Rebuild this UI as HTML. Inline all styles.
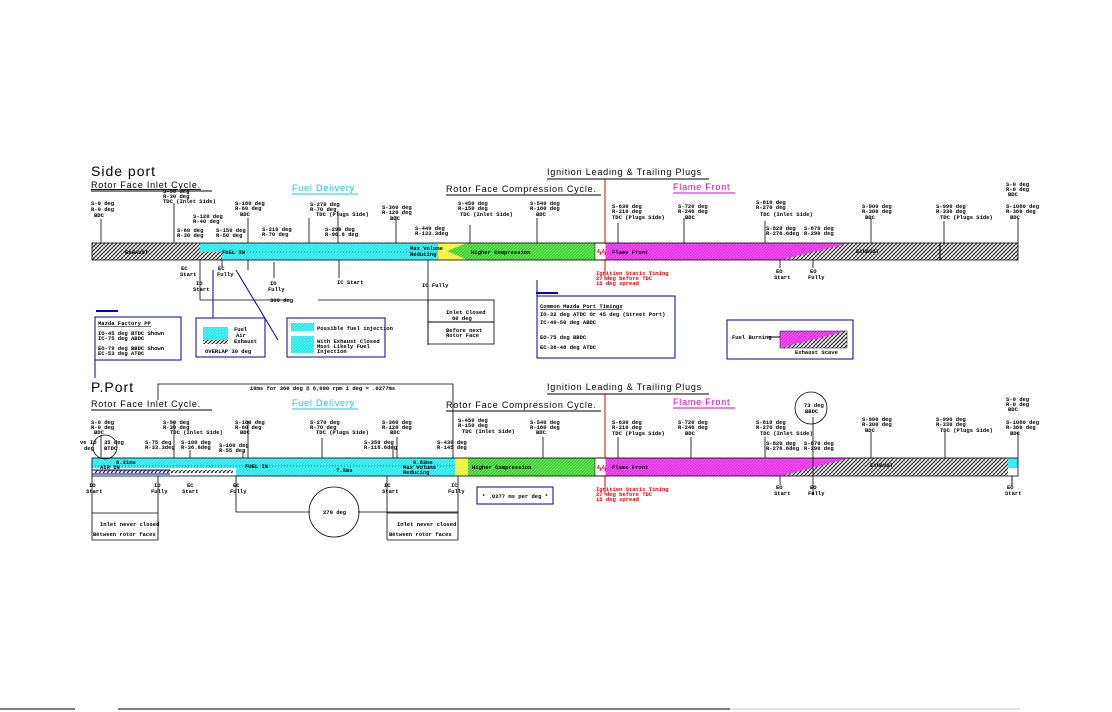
<!DOCTYPE html>
<html><head><meta charset="utf-8"><style>
html,body{margin:0;padding:0;background:#fff;width:1112px;height:712px;overflow:hidden}
svg{display:block}
text{font-family:"Liberation Mono",monospace;font-size:5.5px;fill:#000;font-weight:bold}
.t{font-family:"Liberation Sans",sans-serif;font-size:9px;font-weight:normal;letter-spacing:0.8px}
.h{font-family:"Liberation Sans",sans-serif;font-size:14px;font-weight:normal;letter-spacing:1px}
</style></head><body>
<svg width="1112" height="712" viewBox="0 0 1112 712" xmlns="http://www.w3.org/2000/svg">
<defs>
<pattern id="hx" width="4" height="4" patternUnits="userSpaceOnUse"><rect width="4" height="4" fill="#fff"/><path d="M0,4L4,0M-1,1L1,-1M3,5L5,3" stroke="#000" stroke-width="0.8"/><path d="M0,0L4,4" stroke="#000" stroke-width="0.4"/></pattern>
<pattern id="cy" width="3" height="3" patternUnits="userSpaceOnUse"><rect width="3" height="3" fill="#22e4ee"/><path d="M0,3L3,0" stroke="#6ff" stroke-width="0.8"/></pattern>
<pattern id="gr" width="3" height="3" patternUnits="userSpaceOnUse"><rect width="3" height="3" fill="#3c3"/><path d="M0,3L3,0" stroke="#8e6" stroke-width="0.8"/></pattern>
<pattern id="mg" width="3" height="3" patternUnits="userSpaceOnUse"><rect width="3" height="3" fill="#e2e"/><path d="M0,3L3,0" stroke="#f7f" stroke-width="0.8"/></pattern>
<pattern id="ye" width="3" height="3" patternUnits="userSpaceOnUse"><rect width="3" height="3" fill="#ee2"/><path d="M0,3L3,0" stroke="#ff8" stroke-width="0.8"/></pattern>
</defs>

<!-- ============ TOP ============ -->
<text x="91" y="176" class="h">Side port</text>
<text x="91" y="188" class="t" text-decoration="underline">Rotor Face Inlet Cycle.</text>
<line x1="91" y1="191" x2="212" y2="191" stroke="#000"/>
<text x="292" y="191" class="t" fill="#0cd" style="fill:#1cd">Fuel Delivery</text>
<line x1="292" y1="194" x2="358" y2="194" stroke="#1cd"/>
<text x="446" y="192" class="t">Rotor Face Compression Cycle.</text>
<line x1="446" y1="195" x2="601" y2="195" stroke="#000"/>
<text x="547" y="175" class="t">Ignition Leading &amp; Trailing Plugs</text>
<line x1="547" y1="179" x2="709" y2="179" stroke="#000"/>
<text x="673" y="190" class="t" style="fill:#d0d">Flame Front</text>
<line x1="673" y1="193" x2="735" y2="193" stroke="#d0d"/>
<line x1="605" y1="179" x2="605" y2="280" stroke="#e00"/>

<!-- bar top -->
<rect x="92" y="243" width="108" height="17" fill="url(#hx)"/>
<rect x="200" y="243" width="238" height="17" fill="url(#cy)"/>
<rect x="192" y="252" width="30" height="8" fill="url(#hx)"/>
<polygon points="438,243 467,243 447,251 467,260 438,260" fill="url(#ye)"/>
<polygon points="467,243 595,243 595,260 467,260 447,251" fill="url(#gr)"/>
<rect x="595" y="243" width="11" height="17" fill="#fff" stroke="#000" stroke-width="0.5"/>
<text x="597" y="255" style="fill:#e00;font-size:8px">ϟϟ</text>
<rect x="606" y="243" width="244" height="17" fill="url(#mg)"/>
<rect x="850" y="243" width="168" height="17" fill="url(#hx)"/>
<polygon points="780,260 850,243 850,260" fill="url(#hx)"/>
<rect x="92" y="243" width="926" height="17" fill="none" stroke="#000" stroke-width="0.8"/>
<line x1="940" y1="243" x2="940" y2="260" stroke="#000"/>
<line x1="220" y1="252" x2="438" y2="252" stroke="#088" stroke-dasharray="1,2"/>
<text x="125" y="254">EXHAUST</text><text x="222" y="254">FUEL IN</text>
<text x="410" y="250">Max Volume</text><text x="410" y="256">Reducing</text>
<text x="471" y="254">Higher Compression</text>
<text x="612" y="254">Flame Front</text><text x="856" y="253">EXHAUST</text>

<g stroke="#000" stroke-width="0.8">
<line x1="101" y1="219" x2="101" y2="243"/><line x1="174" y1="203" x2="174" y2="243"/>
<line x1="248" y1="218" x2="248" y2="243"/><line x1="309" y1="218" x2="309" y2="243"/>
<line x1="338" y1="211" x2="338" y2="243"/><line x1="396" y1="216" x2="396" y2="243"/>
<line x1="470" y1="225" x2="470" y2="243"/><line x1="537" y1="218" x2="537" y2="243"/>
<line x1="618" y1="223" x2="618" y2="243"/><line x1="684" y1="218" x2="684" y2="243"/>
<line x1="765" y1="221" x2="765" y2="243"/><line x1="871" y1="218" x2="871" y2="243"/>
<line x1="944" y1="221" x2="944" y2="243"/><line x1="1018" y1="218" x2="1018" y2="243"/>
<line x1="200" y1="260" x2="200" y2="282"/><line x1="222" y1="260" x2="222" y2="267"/>
<line x1="248" y1="260" x2="248" y2="270"/><line x1="274" y1="262" x2="274" y2="278"/>
<line x1="339" y1="260" x2="339" y2="278"/><line x1="428" y1="260" x2="428" y2="345"/>
<line x1="780" y1="260" x2="780" y2="268"/><line x1="813" y1="260" x2="813" y2="268"/>
<line x1="200" y1="300" x2="290" y2="300"/><line x1="318" y1="300" x2="428" y2="300"/>
<line x1="200" y1="282" x2="200" y2="300"/>
</g>
<text x="270" y="302">360 deg</text>
<rect x="428" y="300" width="66" height="44" fill="none" stroke="#000" stroke-width="0.8"/>
<line x1="428" y1="322" x2="494" y2="322" stroke="#000"/>
<text x="446" y="314">Inlet Closed</text><text x="452" y="320">60 deg</text>
<text x="446" y="332">Before next</text><text x="446" y="337">Rotor Face</text>

<text x="91" y="205">S-0 deg</text><text x="91" y="211">R-0 deg</text><text x="94" y="217">BDC</text>
<text x="163" y="193">S-90 deg</text><text x="163" y="198">R-30 deg</text><text x="163" y="203">TDC (Inlet Side)</text>
<text x="193" y="218">S-120 deg</text><text x="193" y="223">R-40 deg</text>
<text x="177" y="232">S-60 deg</text><text x="177" y="237">R-30 deg</text>
<text x="216" y="232">S-150 deg</text><text x="216" y="237">R-50 deg</text>
<text x="235" y="205">S-180 deg</text><text x="235" y="210">R-60 deg</text><text x="240" y="216">BDC</text>
<text x="262" y="231">S-210 deg</text><text x="262" y="236">R-70 deg</text>
<text x="310" y="206">S-270 deg</text><text x="310" y="211">R-70 deg</text><text x="316" y="216">TDC (Plugs Side)</text>
<text x="325" y="231">S-290 deg</text><text x="325" y="236">R-96.6 deg</text>
<text x="382" y="209">S-360 deg</text><text x="382" y="214">R-120 deg</text><text x="390" y="220">BDC</text>
<text x="415" y="230">S-440 deg</text><text x="415" y="235">R-133.3deg</text>
<text x="458" y="205">S-450 deg</text><text x="458" y="210">R-150 deg</text><text x="460" y="216">TDC (Inlet Side)</text>
<text x="530" y="205">S-540 deg</text><text x="530" y="210">R-180 deg</text><text x="536" y="216">BDC</text>
<text x="612" y="208">S-630 deg</text><text x="612" y="213">R-210 deg</text><text x="612" y="219">TDC (Plugs Side)</text>
<text x="678" y="208">S-720 deg</text><text x="678" y="213">R-240 deg</text><text x="685" y="219">BDC</text>
<text x="756" y="204">S-810 deg</text><text x="756" y="209">R-270 deg</text><text x="760" y="216">TDC (Inlet Side)</text>
<text x="766" y="230">S-820 deg</text><text x="766" y="235">R-276.6deg</text>
<text x="804" y="230">S-870 deg</text><text x="804" y="235">R-290 deg</text>
<text x="862" y="208">S-900 deg</text><text x="862" y="213">R-300 deg</text><text x="865" y="219">BDC</text>
<text x="936" y="208">S-990 deg</text><text x="936" y="213">R-330 deg</text><text x="940" y="219">TDC (Plugs Side)</text>
<text x="1006" y="186">S-0 deg</text><text x="1006" y="191">R-0 deg</text><text x="1008" y="196">BDC</text>
<text x="1006" y="208">S-1080 deg</text><text x="1006" y="213">R-360 deg</text><text x="1010" y="219">BDC</text>
<text x="181" y="270">EC</text><text x="180" y="276">Start</text>
<text x="196" y="285">IO</text><text x="193" y="291">Start</text>
<text x="218" y="270">EC</text><text x="217" y="276">Fully</text>
<text x="270" y="285">IO</text><text x="268" y="291">Fully</text>
<text x="337" y="284">IC Start</text><text x="422" y="287">IC Fully</text>
<text x="776" y="273">EO</text><text x="774" y="279">Start</text>
<text x="810" y="273">EO</text><text x="808" y="279">Fully</text>
<text x="596" y="275" style="fill:#e00">Ignition Static Timing</text>
<text x="596" y="280" style="fill:#e00">27 deg before TDC</text>
<text x="596" y="285" style="fill:#e00">15 deg spread</text>

<!-- boxes -->
<g stroke="#009" fill="none" stroke-width="1">
<rect x="95" y="317" width="86" height="43"/>
<rect x="196" y="318" width="69" height="39"/>
<rect x="287" y="318" width="98" height="39"/>
<rect x="537" y="296" width="138" height="62"/>
<rect x="727" y="320" width="126" height="39"/>
<rect x="477" y="487" width="76" height="17"/>
<line x1="213" y1="318" x2="213" y2="270"/>
<line x1="278" y1="340" x2="236" y2="270"/>
<line x1="537" y1="296" x2="537" y2="280"/>
<line x1="95" y1="360" x2="95" y2="378"/>
</g>
<rect x="96" y="310" width="22" height="2" fill="#00c"/>
<rect x="536" y="292" width="22" height="2" fill="#00c"/>
<text x="98" y="325" text-decoration="underline">Mazda Factory PP</text>
<text x="98" y="335">IO-45 deg BTDC  Shown</text><text x="98" y="340">IC-75 deg ABDC</text>
<text x="98" y="350">EO-79 deg BBDC  Shown</text><text x="98" y="355">EC-53 deg ATDC</text>
<rect x="203" y="327" width="25" height="13" fill="url(#cy)"/><rect x="203" y="340" width="25" height="4" fill="url(#hx)"/>
<text x="234" y="331">Fuel</text><text x="236" y="337">Air</text><text x="234" y="343">Exhaust</text>
<text x="205" y="353">OVERLAP 30 deg</text>
<rect x="291" y="323" width="23" height="8" fill="url(#cy)"/>
<text x="317" y="330">Possible fuel injection</text>
<rect x="291" y="336" width="23" height="17" fill="url(#cy)"/>
<text x="317" y="343">With Exhaust Closed</text><text x="317" y="348">Most Likely Fuel</text><text x="317" y="353">Injection</text>
<text x="540" y="308" text-decoration="underline">Common Mazda Port Timings</text>
<text x="540" y="316">IO-32 deg ATDC  Or 45 deg (Street Port)</text>
<text x="540" y="324">IC-40-50 deg ABDC</text>
<text x="540" y="339">EO-75 deg BBDC</text>
<text x="540" y="349">EC-38-48 deg ATDC</text>
<polygon points="780,331 847,331 847,348 780,348" fill="url(#hx)"/>
<polygon points="780,331 847,331 780,348" fill="url(#mg)"/>
<rect x="780" y="331" width="67" height="17" fill="none" stroke="#000" stroke-width="0.5"/>
<text x="732" y="339">Fuel Burning</text><line x1="768" y1="337" x2="780" y2="337" stroke="#000"/>
<text x="795" y="354">Exhaust Scave</text>

<!-- ============ BOTTOM ============ -->
<text x="91" y="392" class="h">P.Port</text>
<polyline points="158,400 158,384 453,384 453,458" fill="none" stroke="#000" stroke-width="0.8"/>
<text x="250" y="390">10ms for 360 deg @ 6,000 rpm   1 deg = .0277ms</text>
<text x="91" y="407" class="t">Rotor Face Inlet Cycle.</text>
<line x1="91" y1="410" x2="212" y2="410" stroke="#000"/>
<text x="292" y="406" class="t" style="fill:#1cd">Fuel Delivery</text>
<line x1="292" y1="409" x2="358" y2="409" stroke="#1cd"/>
<text x="446" y="408" class="t">Rotor Face Compression Cycle.</text>
<line x1="446" y1="411" x2="601" y2="411" stroke="#000"/>
<text x="547" y="390" class="t">Ignition Leading &amp; Trailing Plugs</text>
<line x1="547" y1="394" x2="709" y2="394" stroke="#000"/>
<text x="673" y="405" class="t" style="fill:#d0d">Flame Front</text>
<line x1="673" y1="408" x2="735" y2="408" stroke="#d0d"/>
<line x1="605" y1="394" x2="605" y2="495" stroke="#e00"/>

<rect x="92" y="458" width="363" height="18" fill="url(#cy)"/>
<rect x="92" y="468" width="144" height="8" fill="#fff"/>
<rect x="95" y="470" width="138" height="3" fill="url(#hx)"/>
<line x1="92" y1="470" x2="170" y2="470" stroke="#009"/><line x1="92" y1="474" x2="170" y2="474" stroke="#009"/>
<rect x="455" y="458" width="13" height="18" fill="url(#ye)"/>
<rect x="468" y="458" width="127" height="18" fill="url(#gr)"/>
<rect x="595" y="458" width="11" height="18" fill="#fff" stroke="#000" stroke-width="0.5"/>
<text x="597" y="471" style="fill:#e00;font-size:8px">ϟϟ</text>
<rect x="606" y="458" width="244" height="18" fill="url(#mg)"/>
<rect x="850" y="458" width="158" height="18" fill="url(#hx)"/>
<polygon points="780,476 850,458 850,476" fill="url(#hx)"/>
<rect x="1008" y="458" width="10" height="10" fill="url(#cy)"/>
<rect x="92" y="458" width="926" height="18" fill="none" stroke="#000" stroke-width="0.8"/>
<line x1="92" y1="466" x2="455" y2="466" stroke="#088" stroke-dasharray="1,2"/>
<text x="116" y="464">6.21ms</text><text x="100" y="469">AIR IN</text>
<text x="245" y="468">FUEL IN</text><text x="336" y="472">7.5ms</text>
<text x="413" y="464">0.83ms</text><text x="403" y="469">Max Volume</text><text x="403" y="474">Reducing</text>
<text x="472" y="469">Higher Compression</text>
<text x="612" y="469">Flame Front</text><text x="870" y="467">EXHAUST</text>

<g stroke="#000" stroke-width="0.8">
<line x1="101" y1="435" x2="101" y2="458"/><line x1="174" y1="421" x2="174" y2="458"/>
<line x1="190" y1="450" x2="190" y2="458"/><line x1="243" y1="451" x2="243" y2="458"/>
<line x1="248" y1="421" x2="248" y2="458"/><line x1="322" y1="438" x2="322" y2="458"/>
<line x1="393" y1="445" x2="393" y2="458"/><line x1="397" y1="437" x2="397" y2="458"/>
<line x1="543" y1="437" x2="543" y2="458"/><line x1="618" y1="437" x2="618" y2="458"/>
<line x1="691" y1="437" x2="691" y2="458"/><line x1="765" y1="437" x2="765" y2="458"/>
<line x1="813" y1="417" x2="813" y2="495"/><line x1="871" y1="432" x2="871" y2="458"/>
<line x1="945" y1="432" x2="945" y2="458"/><line x1="1018" y1="432" x2="1018" y2="458"/>
<line x1="780" y1="476" x2="780" y2="485"/>
<line x1="92" y1="476" x2="92" y2="540"/><line x1="158" y1="476" x2="158" y2="540"/>
<line x1="236" y1="476" x2="236" y2="512"/><line x1="236" y1="512" x2="310" y2="512"/>
<line x1="358" y1="512" x2="458" y2="512"/><line x1="458" y1="476" x2="458" y2="540"/>
<line x1="387" y1="476" x2="387" y2="540"/>
<line x1="92" y1="513" x2="158" y2="513"/><line x1="387" y1="513" x2="458" y2="513"/>
<line x1="92" y1="540" x2="158" y2="540"/><line x1="387" y1="540" x2="458" y2="540"/>
</g>
<line x1="1012" y1="476" x2="1012" y2="486" stroke="#009"/>
<circle cx="334" cy="512" r="25" fill="none" stroke="#000" stroke-width="0.8"/>
<text x="323" y="514">270 deg</text>
<circle cx="811" cy="408" r="16" fill="none" stroke="#000" stroke-width="0.8"/>
<text x="804" y="407">73 deg</text><text x="805" y="413">BBDC</text>
<circle cx="105" cy="447" r="12" fill="none" stroke="#000" stroke-width="0.8"/>
<text x="104" y="444">35 deg</text><text x="104" y="450">BTDC</text>
<text x="100" y="526">Inlet never closed</text><text x="93" y="536">Between rotor faces</text>
<text x="397" y="526">Inlet never closed</text><text x="389" y="536">Between rotor faces</text>
<text x="482" y="498">* .0277 ms per deg *</text>

<text x="91" y="424">S-0 deg</text><text x="91" y="429">R-0 deg</text><text x="94" y="434">BDC</text>
<text x="80" y="444">ve IO</text><text x="84" y="450">deg</text>
<text x="163" y="424">S-90 deg</text><text x="163" y="429">R-30 deg</text><text x="170" y="434">TDC (Inlet Side)</text>
<text x="145" y="444">S-75 deg</text><text x="145" y="449">R-33.3deg</text>
<text x="181" y="444">S-100 deg</text><text x="181" y="449">R-36.6deg</text>
<text x="219" y="447">S-160 deg</text><text x="219" y="452">R-55 deg</text>
<text x="235" y="424">S-180 deg</text><text x="235" y="429">R-60 deg</text><text x="240" y="434">BDC</text>
<text x="310" y="424">S-270 deg</text><text x="310" y="429">R-70 deg</text><text x="316" y="434">TDC (Plugs Side)</text>
<text x="364" y="444">S-350 deg</text><text x="364" y="449">R-116.6deg</text>
<text x="382" y="424">S-360 deg</text><text x="382" y="429">R-120 deg</text><text x="390" y="434">BDC</text>
<text x="437" y="444">S-430 deg</text><text x="437" y="449">R-145 deg</text>
<text x="458" y="422">S-450 deg</text><text x="458" y="427">R-150 deg</text><text x="462" y="433">TDC (Inlet Side)</text>
<text x="530" y="424">S-540 deg</text><text x="530" y="429">R-180 deg</text><text x="536" y="434">BDC</text>
<text x="612" y="424">S-630 deg</text><text x="612" y="429">R-210 deg</text><text x="612" y="435">TDC (Plugs Side)</text>
<text x="678" y="424">S-720 deg</text><text x="678" y="429">R-240 deg</text><text x="685" y="435">BDC</text>
<text x="756" y="424">S-810 deg</text><text x="756" y="429">R-270 deg</text><text x="760" y="435">TDC (Inlet Side)</text>
<text x="766" y="445">S-820 deg</text><text x="766" y="450">R-276.6deg</text>
<text x="804" y="445">S-870 deg</text><text x="804" y="450">R-290 deg</text>
<text x="862" y="421">S-900 deg</text><text x="862" y="426">R-300 deg</text><text x="865" y="432">BDC</text>
<text x="936" y="421">S-990 deg</text><text x="936" y="426">R-330 deg</text><text x="940" y="432">TDC (Plugs Side)</text>
<text x="1006" y="401">S-0 deg</text><text x="1006" y="406">R-0 deg</text><text x="1008" y="411">BDC</text>
<text x="1006" y="424">S-1080 deg</text><text x="1006" y="429">R-360 deg</text><text x="1010" y="435">BDC</text>
<text x="89" y="487">IO</text><text x="86" y="493">Start</text>
<text x="154" y="487">IO</text><text x="151" y="493">Fully</text>
<text x="187" y="487">EC</text><text x="182" y="493">Start</text>
<text x="233" y="487">EC</text><text x="230" y="493">Fully</text>
<text x="384" y="487">IC</text><text x="382" y="493">Start</text>
<text x="451" y="487">IC</text><text x="448" y="493">Fully</text>
<text x="776" y="489">EO</text><text x="774" y="495">Start</text>
<text x="810" y="489">EO</text><text x="808" y="495">Fully</text>
<text x="1007" y="489">EO</text><text x="1005" y="495">Start</text>
<text x="596" y="491" style="fill:#e00">Ignition Static Timing</text>
<text x="596" y="496" style="fill:#e00">27 deg before TDC</text>
<text x="596" y="501" style="fill:#e00">15 deg spread</text>

<!-- bottom edge -->
<line x1="0" y1="709" x2="75" y2="709" stroke="#000"/>
<line x1="118" y1="709" x2="730" y2="709" stroke="#000"/>
<line x1="730" y1="709" x2="1020" y2="709" stroke="#ccc"/>
</svg>
</body></html>
